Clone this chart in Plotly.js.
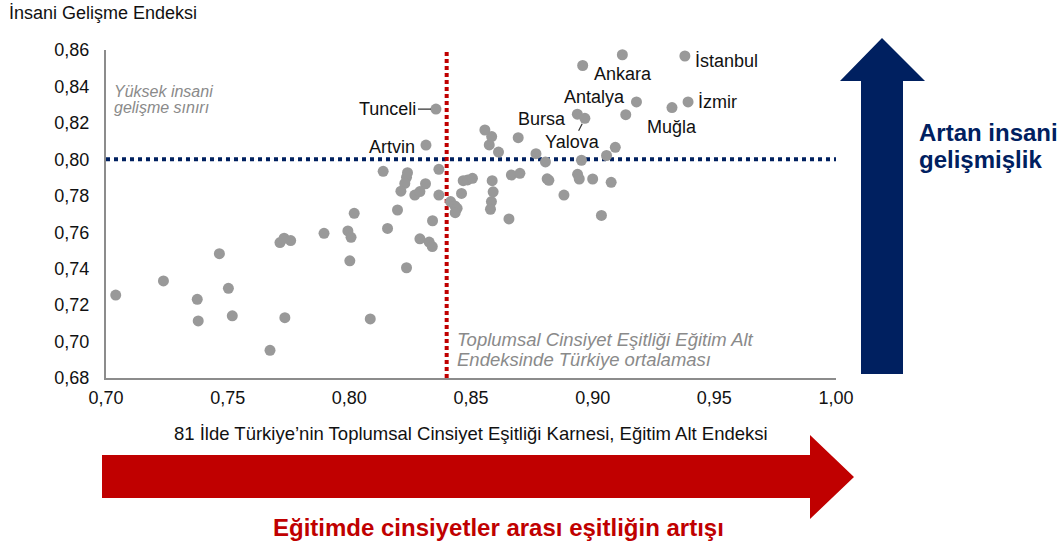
<!DOCTYPE html>
<html>
<head>
<meta charset="utf-8">
<script src="https://cdn.plot.ly/plotly-3.0.1.min.js"></script>
<style>html,body{margin:0;padding:0;background:#fff;}#chart{width:1060px;height:547px;}</style>
</head>
<body>
<div id="chart"></div>
<script>
// ---- Data ----
const eduIndex = [0.704,0.7236,0.7466,0.7503,0.7375,0.7379,0.7519,0.7735,0.7674,0.7715,0.7732,0.7759,0.8002,0.7896,
  0.8315,0.8139,0.8239,0.8235,0.8228,0.8212,0.8313,0.8269,0.8290,0.8368,0.8368,0.8020,0.8198,0.8157,0.8342,0.7994,0.8007,
  0.8290,0.8328,0.8341,0.8235,0.8416,0.8434,0.8443,0.8435,0.8461,0.8468,0.8486,0.8506,0.8587,0.8591,0.8584,0.8580,0.8656,
  0.8666,0.8701,0.8613,0.8575,0.8585,0.8557,0.8694,0.8356,0.9122,0.8959,0.9379,0.9392,0.9326,0.9180,0.9136,0.8937,0.8968,
  0.8767,0.9093,0.8806,0.8954,0.9057,0.8813,0.8820,0.8882,0.8938,0.8945,0.9000,0.9076,0.9036,0.8086];
const hdi = [0.7255,0.7333,0.7482,0.7292,0.7232,0.7113,0.7141,0.7131,0.6952,0.7543,0.7567,0.7554,0.7443,0.7594,
  0.8078,0.7934,0.7927,0.7901,0.7868,0.7825,0.7866,0.7804,0.7823,0.7945,0.7804,0.7704,0.7722,0.7621,0.7663,0.7607,0.7572,
  0.7564,0.7546,0.7521,0.7405,0.7768,0.7744,0.7731,0.7707,0.7813,0.7883,0.7887,0.7896,0.7883,0.7822,0.7768,0.7726,0.7673,
  0.7914,0.7923,0.8040,0.8079,0.8125,0.8161,0.8119,0.8276,0.8574,0.8515,0.8567,0.8315,0.8284,0.8315,0.8245,0.8248,0.8225,
  0.8031,0.8066,0.7986,0.7995,0.8021,0.7893,0.7885,0.7804,0.7918,0.7892,0.7892,0.7874,0.7692,0.7124];
const provinceNames = [
  '','','','','','','','','','','','','','',
  'Artvin','','','','','','','','','','','','','','','','',
  '','','','','','','','','','','','','','','','','',
  '','','','','','','','Tunceli','Ankara','','İstanbul','İzmir','Muğla','Antalya','','Bursa','Yalova',
  '','','','','','','','','','','','','',''];
const turkeyAvgEdu = 0.84;      // Türkiye ortalaması (eğitim alt endeksi)
const highHdiThreshold = 0.80;  // Yüksek insani gelişme sınırı
const xTickVals = [0.70,0.75,0.80,0.85,0.90,0.95,1.00];
const yTickVals = [0.68,0.70,0.72,0.74,0.76,0.78,0.80,0.82,0.84,0.86];

// ---- Layout helpers (pixel -> paper) ----
const L = 106, R = 836, T = 50, B = 378, W = 1060, H = 547;
const pX = p => (p - L) / (R - L);
const pY = p => (B - p) / (B - T);

const FONT = 'Arial, "Liberation Sans", sans-serif';
const NAVY = '#002060', RED = '#C00000', GREY_TXT = '#8a8a8a', TXT = '#111';

// label placement (pixel shifts relative to point)
const labelPlace = {
  'İstanbul': {xanchor:'left', xshift:8, yshift:-5},
  'Ankara':   {xanchor:'center', xshift:1, yshift:-19},
  'Antalya':  {xanchor:'right', xshift:-9, yshift:5},
  'İzmir':    {xanchor:'left', xshift:8, yshift:0},
  'Bursa':    {xanchor:'right', xshift:-9, yshift:-5},
  'Muğla':    {xanchor:'center', xshift:0, yshift:-19},
  'Artvin':   {xanchor:'right', xshift:-9, yshift:-2}
};

const LBL = 18;
const annotations = [];
provinceNames.forEach((n, i) => {
  if (!n) return;
  if (n === 'Tunceli') {
    annotations.push({x: eduIndex[i], y: hdi[i], xref:'x', yref:'y', text:n, showarrow:true,
      arrowhead:0, arrowwidth:1.2, arrowcolor:'#333', ax:-48, ay:0, standoff:5,
      font:{family:FONT, size:LBL, color:TXT}});
  } else if (n === 'Yalova') {
    annotations.push({x: eduIndex[i], y: hdi[i], xref:'x', yref:'y', text:n, showarrow:true,
      arrowhead:0, arrowwidth:1.2, arrowcolor:'#333', ax:-12, ay:24, standoff:6,
      font:{family:FONT, size:LBL, color:TXT}});
  } else {
    const p = labelPlace[n];
    annotations.push({x: eduIndex[i], y: hdi[i], xref:'x', yref:'y', text:n, showarrow:false,
      xanchor:p.xanchor, yanchor:'middle', xshift:p.xshift, yshift:p.yshift,
      font:{family:FONT, size:LBL, color:TXT}});
  }
});

function txt(text, x, y, xanchor, size, color) {
  return {text:text, xref:'paper', yref:'paper', x:pX(x), y:pY(y), xanchor:xanchor, yanchor:'middle',
    showarrow:false, font:{family:FONT, size:size, color:color}};
}
annotations.push(
  txt('İnsani Gelişme Endeksi', 7, 13, 'left', 18, TXT),
  txt('81 İlde Türkiye’nin Toplumsal Cinsiyet Eşitliği Karnesi, Eğitim Alt Endeksi', 471, 433, 'center', 18.5, TXT),
  txt('<i>Yüksek insani</i>', 112, 91, 'left', 16, GREY_TXT),
  txt('<i>gelişme sınırı</i>', 112, 107, 'left', 16, GREY_TXT),
  txt('<i>Toplumsal Cinsiyet Eşitliği Eğitim Alt</i>', 455, 339, 'left', 18.5, GREY_TXT),
  txt('<i>Endeksinde Türkiye ortalaması</i>', 455, 359, 'left', 18.5, GREY_TXT),
  txt('<b>Artan insani</b>', 917, 132, 'left', 24, NAVY),
  txt('<b>gelişmişlik</b>', 917, 159, 'left', 24, NAVY),
  txt('<b>Eğitimde cinsiyetler arası eşitliğin artışı</b>', 498, 527, 'center', 24, RED)
);

const pathFrom = pts => 'M ' + pts.map(([a,b]) => pX(a) + ',' + pY(b)).join(' L ') + ' Z';
const shapes = [
  {type:'path', xref:'paper', yref:'paper', fillcolor:NAVY, line:{width:0},
   path: pathFrom([[861,374],[861,81],[840,81],[882,38],[925,81],[903,81],[903,374]])},
  {type:'path', xref:'paper', yref:'paper', fillcolor:RED, line:{width:0},
   path: pathFrom([[102,455],[810,455],[810,435],[854,477],[810,519],[810,498],[102,498]])}
];

const traces = [
  {type:'scatter', mode:'lines', x:[xTickVals[0], xTickVals[xTickVals.length-1]], y:[highHdiThreshold, highHdiThreshold],
   line:{color:NAVY, width:4, dash:'4px,4px'}, hoverinfo:'skip', cliponaxis:false},
  {type:'scatter', mode:'lines', x:[turkeyAvgEdu, turkeyAvgEdu], y:[yTickVals[0], yTickVals[yTickVals.length-1]],
   line:{color:RED, width:4, dash:'4px,3px'}, hoverinfo:'skip', cliponaxis:false},
  {type:'scatter', mode:'markers', x:eduIndex, y:hdi, text:provinceNames,
   marker:{color:'#999999', size:11}, cliponaxis:false}
];

const layout = {
  width:W, height:H, margin:{l:L, r:W-R, t:T, b:H-B, pad:0},
  paper_bgcolor:'#fff', plot_bgcolor:'#fff', showlegend:false, separators:',.',
  font:{family:FONT, size:18, color:TXT},
  xaxis:{range:[0.70,1.00], tickvals:xTickVals, tickformat:'.2f', showgrid:false, zeroline:false,
    showline:true, linecolor:'#8c8c8c', linewidth:2, ticks:'', ticklabelstandoff:2,
    tickfont:{family:FONT, size:18, color:TXT}},
  yaxis:{range:[0.68,0.86], tickvals:yTickVals, tickformat:'.2f', showgrid:false, zeroline:false,
    showline:true, linecolor:'#8c8c8c', linewidth:2, ticks:'', ticklabelstandoff:11,
    tickfont:{family:FONT, size:18, color:TXT}},
  shapes:shapes, annotations:annotations
};

Plotly.newPlot('chart', traces, layout, {staticPlot:true, displayModeBar:false});
</script>
</body>
</html>
